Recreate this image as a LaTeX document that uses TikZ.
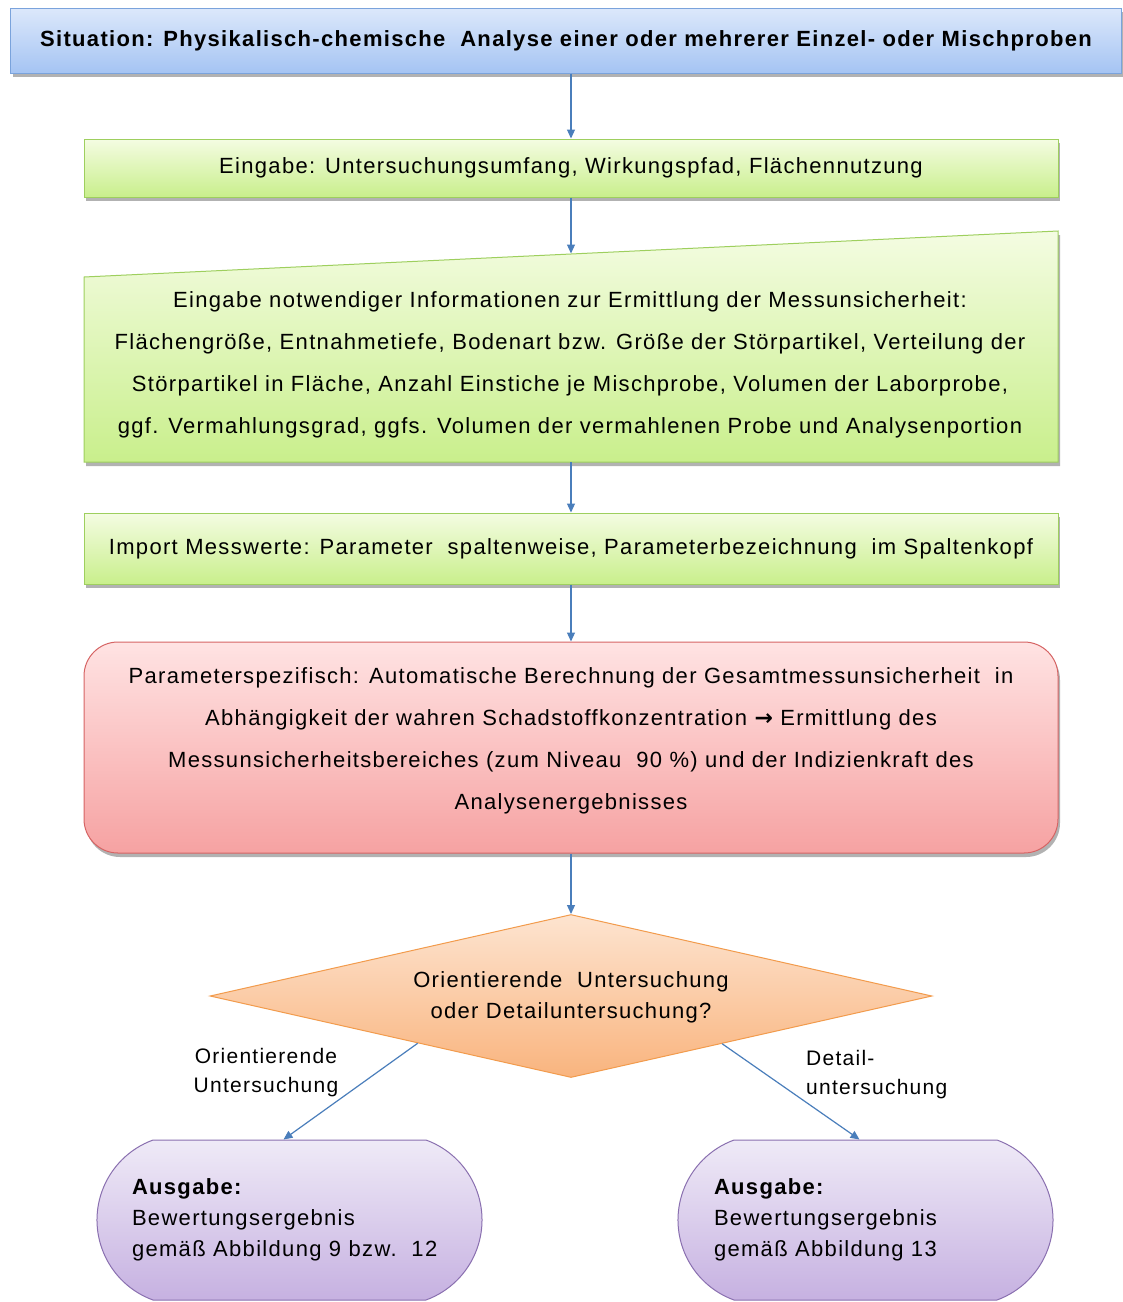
\documentclass[tikz,border=0pt]{standalone}
\usepackage{fontspec}
\setmainfont{Liberation Sans}[LetterSpace=6]
\newfontfamily\arrfont{DejaVu Sans}
\usetikzlibrary{arrows.meta,shapes.geometric,shapes.misc,shadows,calc}
\definecolor{blueTop}{HTML}{DCE8FB}
\definecolor{blueBot}{HTML}{A5C4F3}
\definecolor{blueBorder}{HTML}{7AA3DC}
\definecolor{greenTop}{HTML}{F4FCE2}
\definecolor{greenBot}{HTML}{C9EF8C}
\definecolor{greenBorder}{HTML}{9ECF5E}
\definecolor{redTop}{HTML}{FFE3E3}
\definecolor{redBot}{HTML}{F6A2A2}
\definecolor{redBorder}{HTML}{D66464}
\definecolor{orTop}{HTML}{FDE4D0}
\definecolor{orBot}{HTML}{F9B47E}
\definecolor{orBorder}{HTML}{F29B4C}
\definecolor{puTop}{HTML}{EFEAF7}
\definecolor{puBot}{HTML}{C6B1E1}
\definecolor{puBorder}{HTML}{8A70B0}
\definecolor{arrowBlue}{HTML}{4A7EBB}
\begin{document}
\begin{tikzpicture}[x=1pt,y=-1pt,
  every node/.style={font=\fontsize{22}{42}\selectfont, inner sep=0pt},
  shad/.style={drop shadow={shadow xshift=2pt,shadow yshift=-4pt,fill=black,opacity=0.3}},
  bluebox/.style={draw=blueBorder, line width=1pt, top color=blueTop, bottom color=blueBot, shad},
  greenbox/.style={draw=greenBorder, line width=1pt, top color=greenTop, bottom color=greenBot, shad},
  redbox/.style={draw=redBorder, line width=1pt, top color=redTop, bottom color=redBot, rounded corners=34pt, shad},
  orbox/.style={draw=orBorder, line width=1pt, top color=orTop, bottom color=orBot, diamond},
  pubox/.style={draw=puBorder, line width=1pt, top color=puTop, bottom color=puBot, rounded rectangle, rounded rectangle arc length=140},
  conn/.style={draw=arrowBlue, line width=1.2pt, -{Triangle[length=9pt,width=8pt]}},
  lbl/.style={font=\fontsize{21}{29}\selectfont}
]
\useasboundingbox (0,0) rectangle (1123,1302);
\fill[white] (0,0) rectangle (1123,1302);

% top box
\node[bluebox, minimum width=1111pt, minimum height=65pt] (sit) at (566,40.5)
  {\bfseries Situation: Physikalisch-chemische\ \ Analyse einer oder mehrerer Einzel- oder Mischproben};

% first green box
\node[greenbox, minimum width=974pt, minimum height=58pt] (in1) at (571,168)
  {\raisebox{5pt}{Eingabe: Untersuchungsumfang, Wirkungspfad, Flächennutzung}};

% manual input shape
\path[greenbox] (84,277) -- (1058,231) -- (1058,462) -- (84,462) -- cycle;
\coordinate (in2top) at (571,253.5);
\coordinate (in2bot) at (571,462);
\node[align=center] (in2) at (570,365)
  {Eingabe notwendiger Informationen zur Ermittlung der Messunsicherheit:\\
   Flächengröße, Entnahmetiefe, Bodenart bzw. Größe der Störpartikel, Verteilung der\\
   Störpartikel in Fläche, Anzahl Einstiche je Mischprobe, Volumen der Laborprobe,\\
   ggf. Vermahlungsgrad, ggfs. Volumen der vermahlenen Probe und Analysenportion};

% third green box
\node[greenbox, minimum width=974pt, minimum height=71pt] (imp) at (571,548.5)
  {Import Messwerte: Parameter\ \ spaltenweise, Parameterbezeichnung\ \ im Spaltenkopf};

% red box
\node[redbox, minimum width=974pt, minimum height=211pt] (calc) at (571,747.5) {};
\node[align=center] (calct) at (571,741)
  {Parameterspezifisch: Automatische Berechnung der Gesamtmessunsicherheit\ \ in\\
   Abhängigkeit der wahren Schadstoffkonzentration {\arrfont\bfseries →} Ermittlung des\\
   Messunsicherheitsbereiches (zum Niveau\ \ 90 \%) und der Indizienkraft des\\
   Analysenergebnisses};

% diamond
\node[orbox, minimum width=722pt, minimum height=163pt] (dia) at (571,996) {};
\node[align=center, font=\fontsize{22}{31}\selectfont] (diat) at (571,997)
  {Orientierende\ \ Untersuchung\\oder Detailuntersuchung?};

% terminals
\node[pubox, minimum width=385pt, minimum height=160pt] (t1) at (289.5,1220)
  {\parbox{315pt}{\fontsize{22}{31}\selectfont\textbf{Ausgabe:}\\Bewertungsergebnis\\gemäß Abbildung 9 bzw.\ \ 12}};
\node[pubox, minimum width=375pt, minimum height=160pt] (t2) at (865.5,1220)
  {\parbox{303pt}{\fontsize{22}{31}\selectfont\textbf{Ausgabe:}\\Bewertungsergebnis\\gemäß Abbildung 13}};

% labels
\node[lbl, align=center] (l1) at (266,1073) {Orientierende\\Untersuchung};
\node[lbl, align=left, anchor=west] (l2) at (806,1075) {Detail-\\untersuchung};

% connectors
\draw[conn] (sit.south -| in1.north) -- (in1.north);
\draw[conn] (in1.south) -- (in2top);
\draw[conn] (in2bot) -- (imp.north);
\draw[conn] (imp.south) -- (calc.north);
\draw[conn] (calc.south) -- (dia.north);
\draw[conn] ($(dia.west)!0.576!(dia.south)$) -- ($(t1.north)+(-6,0)$);
\draw[conn] ($(dia.east)!0.582!(dia.south)$) -- ($(t2.north)+(-6,0)$);
\end{tikzpicture}
\end{document}
